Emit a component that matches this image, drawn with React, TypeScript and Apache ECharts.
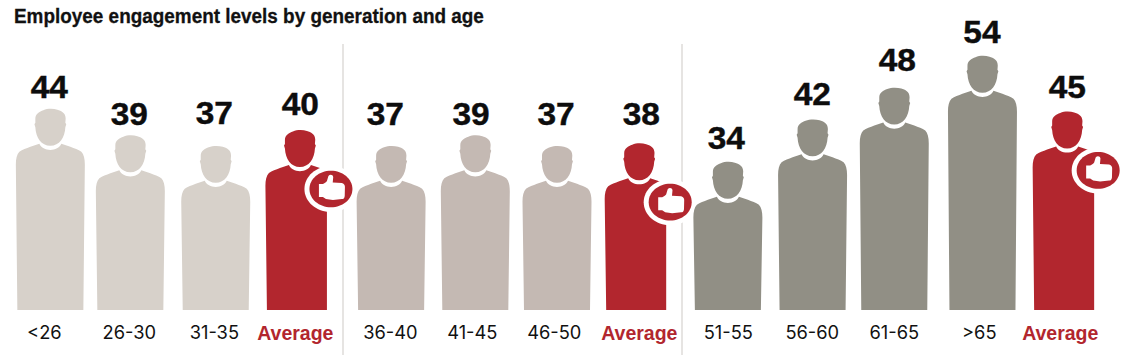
import React, { useEffect, useRef } from "react";
import * as echarts from "echarts";

const titleText = "Employee engagement levels by generation and age";
const categories = ["<26", "26-30", "31-35", "Average", "36-40", "41-45", "46-50", "Average", "51-55", "56-60", "61-65", ">65", "Average"];
const values = [44, 39, 37, 40, 37, 39, 37, 38, 34, 42, 48, 54, 45];
// Height each figure is drawn at in the reference (its silhouette, in axis units).
const figureLevels = [44, 39, 37, 40, 37, 39, 37, 37.5, 34, 42, 48, 54, 43.5];
const groups = [0, 0, 0, 3, 1, 1, 1, 3, 2, 2, 2, 2, 3];

const palette = ["#d7d1ca", "#c4b9b3", "#918f85", "#b2262e"];
const figureNudge = [0, -4.7, -4, -4.5, 2, 1.5, -1.5, -4, 0, 0, -3, 0.5, 0.5];
const numberNudge = [-1, -5.7, -5.4, -4.1, -3.8, -2.8, -2.5, -1.9, -1.6, -0.3, 0, 0, 0.6];
const numberGap = [21.6, 21, 32.7, 25, 31.7, 21, 31.7, 29, 23.6, 25, 27, 23.6, 24];
const axisNudge = [-6, -5.7, -5.4, -9.1, 1.2, -1.5, -4.2, -3.9, 0.4, -0.3, -3, -2.7, -6.4];

const HEAD =
  "M-15,10.5 C-15.2,5 -11,3 -7,1.5 C-3,-0.3 3,-0.3 7,1 C11,2.3 15.5,4 15.3,10 L15,14 L15.9,15.5 L15,18.5 C14.5,29 9,37 0,37 C-9,37 -14.5,29 -15,18.5 L-15.9,15.5 L-15,14 Z";
const NECK = "C-9,39 -5,41.2 0,41.2 C5,41.2 9,39 11,35";
const THUMB =
  "M-12,-5 L-8,-5 C-6,-6 -4.5,-7 -4,-8 L-2.5,-13 C-1,-15 2,-14.5 2.3,-12 L1.8,-6.5 L11,-6 C13.5,-5.5 14,-3.5 14,-2 L13.8,7 C13.5,9.5 12.5,10 11,10 L2,11 L-5,10 L-8,8 L-12,8 Z";

function bodyPath(h: number, clipped: boolean) {
  const right = clipped
    ? `L34.5,56 L27,70 L27,${h}`
    : `C33.5,45.5 34.5,50 34.5,56 L33,${h}`;
  return (
    `M-11,35 ${NECK} L20,38 C24,40 28,40.5 31,43 ` +
    right +
    ` L-33,${h} L-34.5,56 C-34.5,50 -33.5,45.5 -31,43 C-28,40.5 -24,40 -20,38 Z`
  );
}

export default function App() {
  const ref = useRef<HTMLDivElement>(null);
  useEffect(() => {
    document.body.style.margin = "0";
    const chart = echarts.init(ref.current!, undefined, { renderer: "svg" });
    const LF = "'Liberation Sans', Arial, sans-serif";
    chart.setOption({
      animation: false,
      backgroundColor: "#ffffff",
      grid: { left: 8, width: 1101, top: 24, height: 286 },
      xAxis: {
        type: "category",
        data: categories.map((c, i) => {
          const d = axisNudge[i];
          const padding = [0, d < 0 ? -2 * d : 0, 0, d > 0 ? 2 * d : 0];
          return {
            value: c,
            textStyle:
              groups[i] === 3
                ? { fontFamily: LF, fontWeight: "bold", fontSize: 19.5, color: palette[3], padding }
                : { fontFamily: "Inter", fontSize: 18.3, color: "#111111", padding },
          };
        }),
        axisLine: { show: false },
        axisTick: { show: false },
        splitLine: { show: false },
        axisLabel: { interval: 0, margin: 13 },
      },
      yAxis: { type: "value", min: 6, max: 60, show: false },
      graphic: [
        ...[343, 682].map((x) => ({
          type: "rect",
          silent: true,
          z: 0,
          shape: { x: x - 1, y: 44, width: 2, height: 311 },
          style: { fill: "#e6e4e2" },
        })),
        {
          type: "text",
          x: 14,
          y: 16,
          scaleX: 0.923,
          style: {
            text: titleText,
            fontFamily: LF,
            fontWeight: "bold",
            fontSize: 20.5,
            fill: "#111111",
            stroke: "#111111",
            lineWidth: 0.3,
            align: "left",
            textAlign: "left",
            verticalAlign: "middle",
            textVerticalAlign: "middle",
          },
        },
      ],
      series: [
        {
          type: "custom",
          clip: false,
          data: categories.map((_, i) => [i, figureLevels[i], values[i]]),
          encode: { x: 0, y: 1 },
          renderItem: (_p: any, api: any) => {
            const i = api.value(0) as number;
            const [bx, top] = api.coord([i, api.value(1)]);
            const [, base] = api.coord([i, 6]);
            const g = groups[i];
            const fill = palette[g];
            const cx = bx + figureNudge[i];
            const clipped = g === 3;
            const children: any[] = [
              { type: "path", x: cx, y: top, shape: { pathData: HEAD + " " + bodyPath(base - top, clipped) }, style: { fill } },
            ];
            if (clipped) {
              const bcx = cx + 31;
              const bcy = top + 59;
              children.push(
                { type: "ellipse", shape: { cx: bcx, cy: bcy, rx: 26.5, ry: 23 }, style: { fill: "#ffffff" } },
                { type: "ellipse", shape: { cx: bcx, cy: bcy, rx: 21.5, ry: 18.3 }, style: { fill } },
                { type: "path", x: bcx, y: bcy, shape: { pathData: THUMB }, style: { fill: "#ffffff" } }
              );
            }
            children.push({
              type: "text",
              x: bx + numberNudge[i],
              y: top - numberGap[i],
              scaleX: 1.08,
              style: {
                text: String(api.value(2)),
                fontFamily: LF,
                fontWeight: "bold",
                fontSize: 31,
                fill: "#0d0d0d",
                stroke: "#0d0d0d",
                lineWidth: 0.4,
                align: "center",
                textAlign: "center",
                verticalAlign: "middle",
                textVerticalAlign: "middle",
              },
            });
            return { type: "group", children };
          },
        },
      ],
    });
    return () => chart.dispose();
  }, []);
  return <div ref={ref} style={{ width: 1134, height: 355 }} />;
}
